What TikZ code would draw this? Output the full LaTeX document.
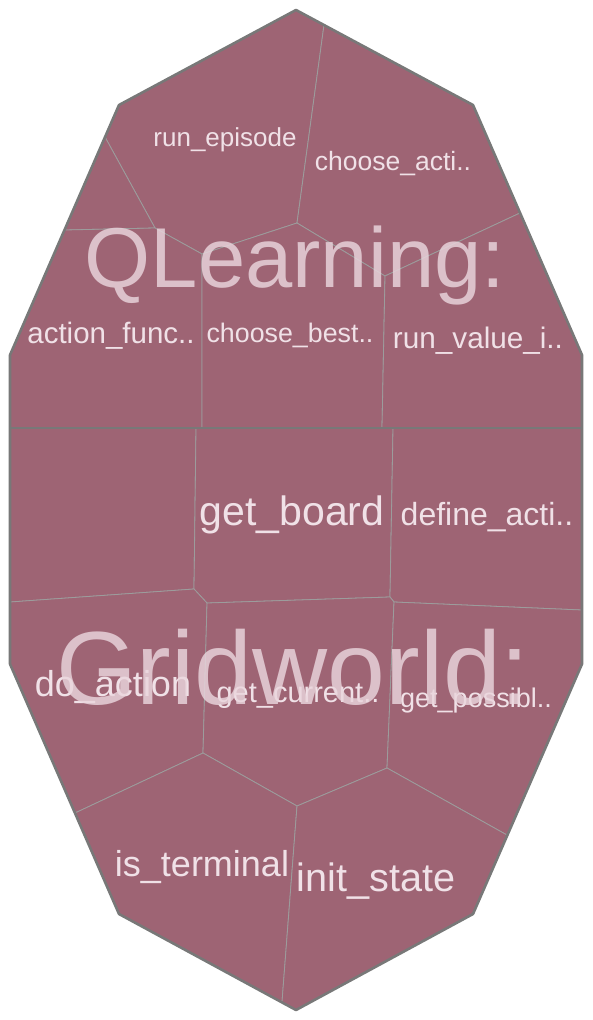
\documentclass[tikz,border=0pt]{standalone}
\usepackage{fontspec}
\setmainfont{Liberation Sans}
\usepackage{tikz}
\definecolor{cellfill}{HTML}{9E6474}
\definecolor{celledge}{HTML}{9C9C9C}
\definecolor{hulledge}{HTML}{787878}
\definecolor{fntext}{HTML}{F0E1E7}
\definecolor{classtext}{HTML}{EAD6DD}
\newcommand*\edgewd{0.8pt}
\newcommand*\hullwd{2.6pt}
\tikzset{
    cell/.style      = {fill=cellfill, draw=celledge, line width=\edgewd, line join=round},
    hull/.style      = {draw=hulledge, line width=\hullwd, line join=round},
    fnlabel/.style   = {text=fntext, anchor=base, inner sep=0pt, outer sep=0pt,
                        font=\fontsize{#1}{#1}\selectfont},
    classlabel/.style= {fnlabel=#1, text=classtext, text opacity=0.82},
  }

\begin{document}
\begin{tikzpicture}[x=1pt,y=-1pt]
      \useasboundingbox (0,0) rectangle (592,1020);

      % outline points
      \coordinate (T)  at (296,10);
      \coordinate (UR) at (473,105);
      \coordinate (RU) at (582,355);
      \coordinate (RL) at (582,664);
      \coordinate (LR) at (473,914);
      \coordinate (B)  at (296,1010);
      \coordinate (LL) at (119,914);
      \coordinate (LD) at (10,664);
      \coordinate (LU) at (10,355);
      \coordinate (UL) at (119,105);
      \coordinate (DL) at (10,428);
      \coordinate (DR) at (582,428);

      % QLearning junctions
      \coordinate (q1) at (324,25);
      \coordinate (q2) at (297,223);
      \coordinate (q3) at (202,254);
      \coordinate (q4) at (155,228);
      \coordinate (q5) at (105,137);
      \coordinate (q6) at (65,230);
      \coordinate (q7) at (385,276);
      \coordinate (q8) at (520,213);
      \coordinate (q9) at (202,428);
      \coordinate (q10) at (382,428);

      % Gridworld junctions
      \coordinate (g1) at (196,428);
      \coordinate (g2) at (194,589);
      \coordinate (g3) at (10,602);
      \coordinate (g4) at (207,603);
      \coordinate (g5) at (390,597);
      \coordinate (g6) at (393,428);
      \coordinate (g7) at (394,602);
      \coordinate (g8) at (582,610);
      \coordinate (g9) at (203,753);
      \coordinate (g10) at (387,768);
      \coordinate (g11) at (297,806);
      \coordinate (g12) at (75,813);
      \coordinate (g13) at (507,835);
      \coordinate (g14) at (282,1002);

      % QLearning cells
      \filldraw[cell] (T) -- (q1) -- (q2) -- (q3) -- (q4) -- (q5) -- (UL) -- cycle;
      \filldraw[cell] (q1) -- (UR) -- (q8) -- (q7) -- (q2) -- cycle;
      \filldraw[cell] (q5) -- (q4) -- (q6) -- cycle;
      \filldraw[cell] (q6) -- (q4) -- (q3) -- (q9) -- (DL) -- (LU) -- cycle;
      \filldraw[cell] (q3) -- (q2) -- (q7) -- (q10) -- (q9) -- cycle;
      \filldraw[cell] (q7) -- (q8) -- (RU) -- (DR) -- (q10) -- cycle;

      % Gridworld cells
      \filldraw[cell] (DL) -- (g1) -- (g2) -- (g3) -- cycle;
      \filldraw[cell] (g1) -- (g6) -- (g5) -- (g4) -- (g2) -- cycle;
      \filldraw[cell] (g6) -- (DR) -- (g8) -- (g7) -- (g5) -- cycle;
      \filldraw[cell] (g3) -- (g2) -- (g4) -- (g9) -- (g12) -- (LD) -- cycle;
      \filldraw[cell] (g4) -- (g5) -- (g7) -- (g10) -- (g11) -- (g9) -- cycle;
      \filldraw[cell] (g7) -- (g8) -- (RL) -- (g13) -- (g10) -- cycle;
      \filldraw[cell] (g12) -- (g9) -- (g11) -- (g14) -- (LL) -- cycle;
      \filldraw[cell] (g11) -- (g10) -- (g13) -- (LR) -- (B) -- (g14) -- cycle;

      % function labels
      \node[fnlabel=26]   (runEpisode)   at (225,146) {run\_episode};
      \node[fnlabel=26.5] (chooseAction) at (393,170) {choose\_acti..};
      \node[fnlabel=29.5] (actionFunc)   at (111,343) {action\_func..};
      \node[fnlabel=26.8] (chooseBest)   at (290,342) {choose\_best..};
      \node[fnlabel=29.7] (runValue)     at (478,348) {run\_value\_i..};
      \node[fnlabel=41]   (getBoard)     at (292,525) {get\_board};
      \node[fnlabel=32]   (defineAction) at (487,525) {define\_acti..};
      \node[fnlabel=36]   (doAction)     at (113,696) {do\_action};
      \node[fnlabel=29]   (getCurrent)   at (298,702) {get\_current..};
      \node[fnlabel=27]   (getPossible)  at (476,707) {get\_possibl..};
      \node[fnlabel=36]   (isTerminal)   at (202,876) {is\_terminal};
      \node[fnlabel=39.6] (initState)    at (376,891) {init\_state};

      % class labels
      \node[classlabel=85]  (qlearning) at (295,287) {QLearning:};
      \node[classlabel=104] (gridworld) at (293,704) {Gridworld:};

      % outline and divider
      \draw[hull] (T) -- (UR) -- (RU) -- (RL) -- (LR) -- (B) -- (LL) -- (LD) -- (LU) -- (UL) -- cycle;
      \draw[hull] (DL) -- (DR);
    \end{tikzpicture}
\end{document}
